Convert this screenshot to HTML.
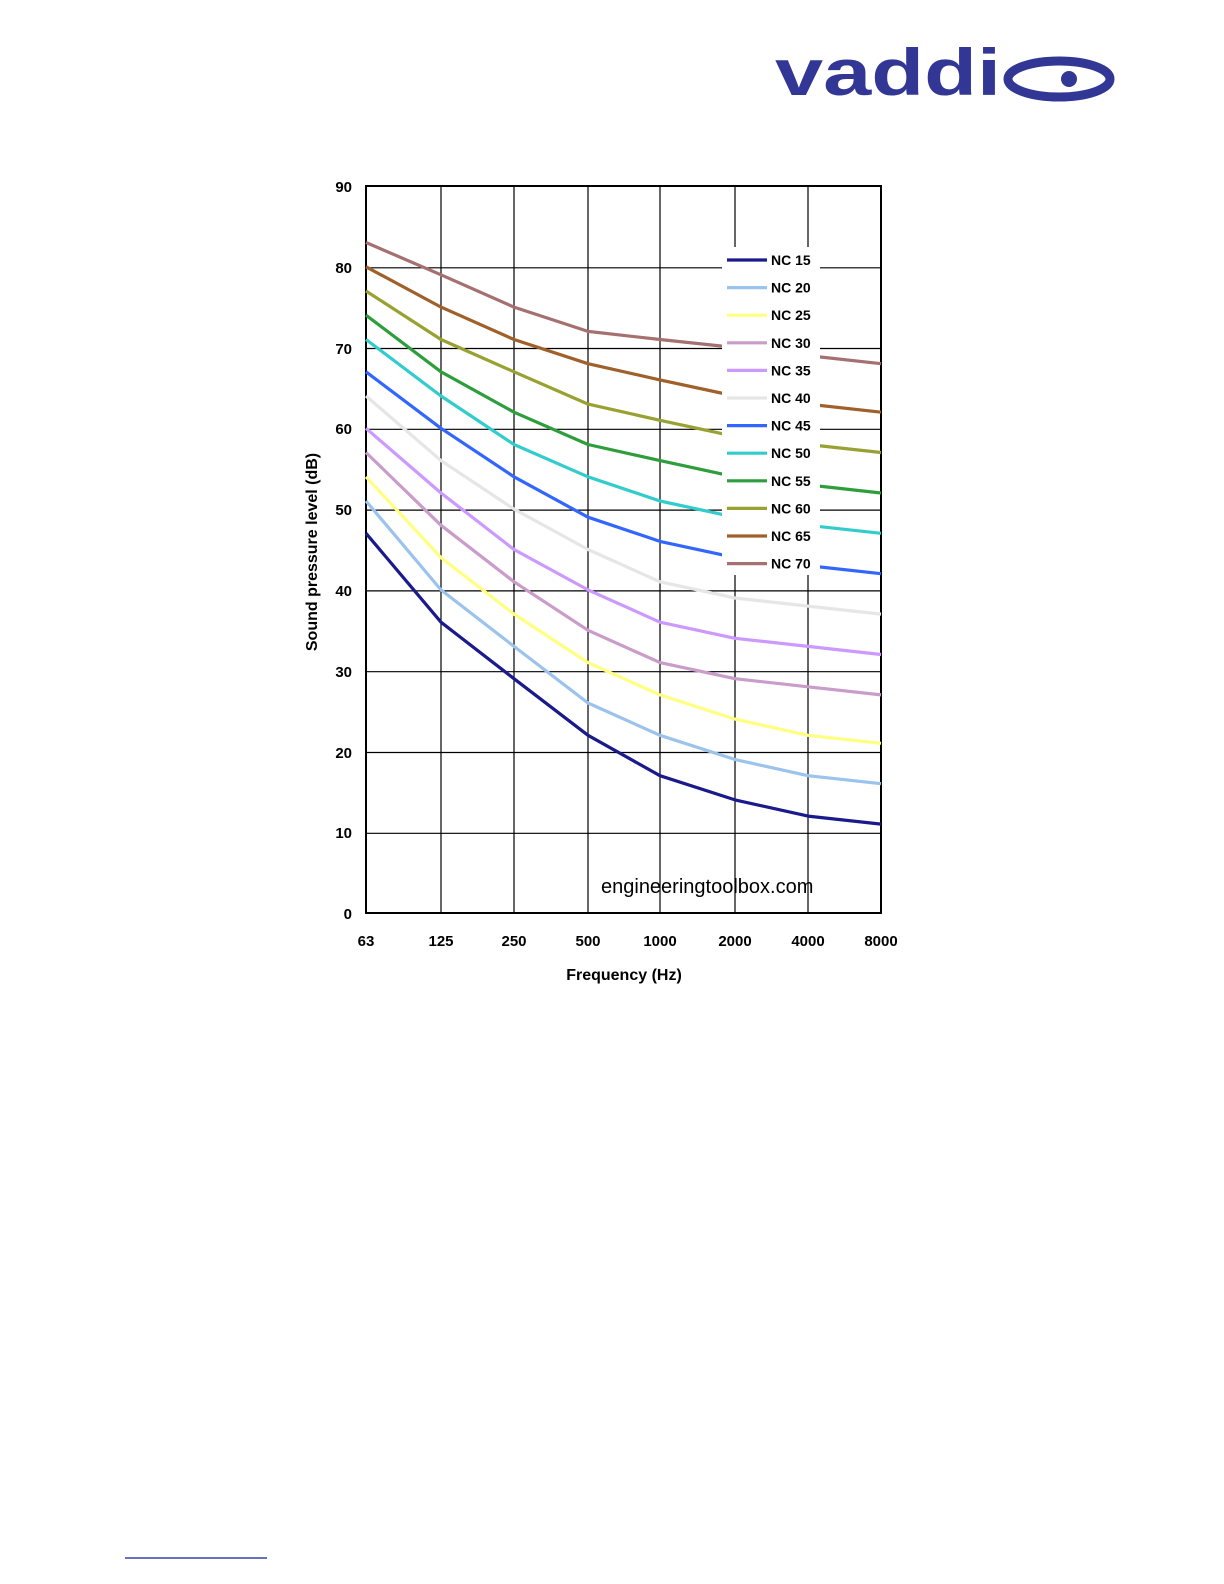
<!DOCTYPE html>
<html><head><meta charset="utf-8"><style>
html,body{margin:0;padding:0;background:#fff;}
svg{display:block;}
text{font-family:"Liberation Sans",Arial,sans-serif;}
</style></head><body>
<svg width="1224" height="1584" viewBox="0 0 1224 1584" xmlns="http://www.w3.org/2000/svg">
<text x="775" y="95" font-size="66" font-weight="bold" fill="#323795" textLength="226" lengthAdjust="spacingAndGlyphs">vaddi</text>
<ellipse cx="1059" cy="79" rx="51" ry="18" fill="none" stroke="#323795" stroke-width="9"/>
<circle cx="1069" cy="79" r="8" fill="#323795"/>

<g stroke="#000" stroke-width="1.2">
<line x1="366" y1="267.8" x2="881" y2="267.8"/>
<line x1="366" y1="348.5" x2="881" y2="348.5"/>
<line x1="366" y1="429.3" x2="881" y2="429.3"/>
<line x1="366" y1="510.1" x2="881" y2="510.1"/>
<line x1="366" y1="590.9" x2="881" y2="590.9"/>
<line x1="366" y1="671.7" x2="881" y2="671.7"/>
<line x1="366" y1="752.5" x2="881" y2="752.5"/>
<line x1="366" y1="833.3" x2="881" y2="833.3"/>
<line x1="441" y1="186" x2="441" y2="913"/>
<line x1="514" y1="186" x2="514" y2="913"/>
<line x1="588" y1="186" x2="588" y2="913"/>
<line x1="660" y1="186" x2="660" y2="913"/>
<line x1="735" y1="186" x2="735" y2="913"/>
<line x1="808" y1="186" x2="808" y2="913"/>
</g>
<rect x="366" y="186" width="515" height="727" fill="none" stroke="#000" stroke-width="2"/>

<g fill="none" stroke-width="3.2" stroke-linejoin="round">
<polyline stroke="#1a1a8c" points="366,533.3 441,622.2 514,678.7 588,735.3 660,775.7 735,799.9 808,816.1 881,824.1"/>
<polyline stroke="#9cc3ec" points="366,501 441,589.9 514,646.4 588,703 660,735.3 735,759.5 808,775.7 881,783.7"/>
<polyline stroke="#ffff80" points="366,476.8 441,557.6 514,614.1 588,662.6 660,694.9 735,719.1 808,735.3 881,743.3"/>
<polyline stroke="#c99cc9" points="366,452.5 441,525.3 514,581.8 588,630.3 660,662.6 735,678.7 808,686.8 881,694.9"/>
<polyline stroke="#cc99ff" points="366,428.3 441,493 514,549.5 588,589.9 660,622.2 735,638.3 808,646.4 881,654.5"/>
<polyline stroke="#e6e6e6" points="366,396 441,460.6 514,509.1 588,549.5 660,581.8 735,598 808,606.1 881,614.1"/>
<polyline stroke="#3366ff" points="366,371.8 441,428.3 514,476.8 588,517.2 660,541.4 735,557.6 808,565.6 881,573.7"/>
<polyline stroke="#33cccc" points="366,339.5 441,396 514,444.5 588,476.8 660,501 735,517.2 808,525.3 881,533.3"/>
<polyline stroke="#2e9e3c" points="366,315.2 441,371.8 514,412.2 588,444.5 660,460.6 735,476.8 808,484.9 881,493"/>
<polyline stroke="#99a133" points="366,291 441,339.5 514,371.8 588,404.1 660,420.3 735,436.4 808,444.5 881,452.5"/>
<polyline stroke="#a0602a" points="366,266.8 441,307.1 514,339.5 588,363.7 660,379.9 735,396 808,404.1 881,412.2"/>
<polyline stroke="#a67070" points="366,242.5 441,274.8 514,307.1 588,331.4 660,339.5 735,347.5 808,355.6 881,363.7"/>
</g>

<rect x="722" y="247" width="98" height="328" fill="#fff"/>
<g stroke-width="3.2">
<line x1="727" x2="767" y1="260" y2="260" stroke="#1a1a8c"/>
<line x1="727" x2="767" y1="287.6" y2="287.6" stroke="#9cc3ec"/>
<line x1="727" x2="767" y1="315.2" y2="315.2" stroke="#ffff80"/>
<line x1="727" x2="767" y1="342.8" y2="342.8" stroke="#c99cc9"/>
<line x1="727" x2="767" y1="370.4" y2="370.4" stroke="#cc99ff"/>
<line x1="727" x2="767" y1="398" y2="398" stroke="#e6e6e6"/>
<line x1="727" x2="767" y1="425.6" y2="425.6" stroke="#3366ff"/>
<line x1="727" x2="767" y1="453.2" y2="453.2" stroke="#33cccc"/>
<line x1="727" x2="767" y1="480.8" y2="480.8" stroke="#2e9e3c"/>
<line x1="727" x2="767" y1="508.4" y2="508.4" stroke="#99a133"/>
<line x1="727" x2="767" y1="536" y2="536" stroke="#a0602a"/>
<line x1="727" x2="767" y1="563.6" y2="563.6" stroke="#a67070"/>
</g>
<g font-size="14" font-weight="bold" fill="#000">
<text x="771" y="265">NC 15</text>
<text x="771" y="292.6">NC 20</text>
<text x="771" y="320.2">NC 25</text>
<text x="771" y="347.8">NC 30</text>
<text x="771" y="375.4">NC 35</text>
<text x="771" y="403">NC 40</text>
<text x="771" y="430.6">NC 45</text>
<text x="771" y="458.2">NC 50</text>
<text x="771" y="485.8">NC 55</text>
<text x="771" y="513.4">NC 60</text>
<text x="771" y="541">NC 65</text>
<text x="771" y="568.6">NC 70</text>
</g>

<text x="601" y="893" font-size="20" fill="#000">engineeringtoolbox.com</text>

<g font-size="15" font-weight="bold" text-anchor="end">
<text x="352" y="192">90</text>
<text x="352" y="273">80</text>
<text x="352" y="354">70</text>
<text x="352" y="434">60</text>
<text x="352" y="515">50</text>
<text x="352" y="596">40</text>
<text x="352" y="677">30</text>
<text x="352" y="758">20</text>
<text x="352" y="838">10</text>
<text x="352" y="919">0</text>
</g>
<g font-size="15" font-weight="bold" text-anchor="middle">
<text x="366" y="946">63</text>
<text x="441" y="946">125</text>
<text x="514" y="946">250</text>
<text x="588" y="946">500</text>
<text x="660" y="946">1000</text>
<text x="735" y="946">2000</text>
<text x="808" y="946">4000</text>
<text x="881" y="946">8000</text>
</g>
<text x="624" y="980" font-size="16" font-weight="bold" text-anchor="middle">Frequency (Hz)</text>
<text transform="translate(317,552) rotate(-90)" font-size="16" font-weight="bold" text-anchor="middle">Sound pressure level (dB)</text>

<line x1="125" y1="1558" x2="267" y2="1558" stroke="#3344aa" stroke-width="1.5"/>
</svg>
</body></html>
